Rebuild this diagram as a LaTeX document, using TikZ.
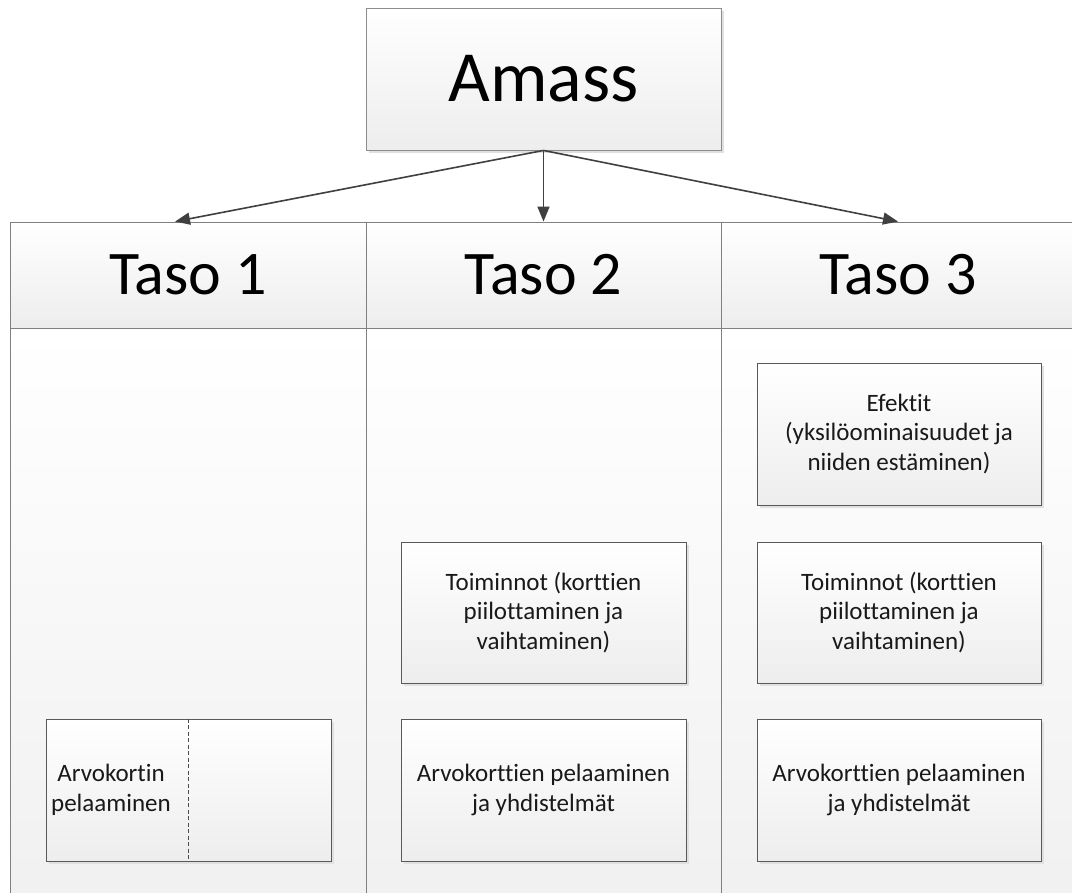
\documentclass[tikz,border=0pt]{standalone}
\usepackage{fontspec}
\setmainfont{Carlito}[Ligatures=NoCommon]
\usetikzlibrary{arrows.meta,shadows,calc}
\begin{document}
\begin{tikzpicture}[x=1pt,y=-1pt,
  lanehead/.style={draw=black!50, line width=0.9pt, top color=white, bottom color=black!7,
    inner sep=0pt, font=\fontsize{62}{66}\selectfont},
  lanebody/.style={draw=black!50, line width=0.9pt, top color=white, bottom color=black!6, inner sep=0pt},
  amassbox/.style={draw=black!45, line width=0.9pt, top color=white, bottom color=black!7,
    drop shadow={shadow xshift=3pt, shadow yshift=-3pt, fill=black!12, opacity=1},
    inner sep=0pt, font=\fontsize{72}{76}\selectfont},
  cardbox/.style={draw=black!65, line width=0.9pt, top color=white, bottom color=black!7,
    drop shadow={shadow xshift=3pt, shadow yshift=-3pt, fill=black!12, opacity=1},
    inner sep=0pt, align=center, font=\fontsize{25}{29.5}\selectfont, text=black!90},
  cardtext/.style={inner sep=0pt, align=center, font=\fontsize{25}{29.5}\selectfont, text=black!90},
  conn/.style={draw=black!75, line width=1.6pt, -{Triangle[length=15pt,width=12pt]}},
  divider/.style={draw=black!70, line width=0.7pt, dash pattern=on 4pt off 2.5pt}
]
\clip (0,0) rectangle (1072,893);
\fill[white] (0,0) rectangle (1072,893);

% lanes
\node[lanebody, minimum width=356pt, minimum height=600pt, anchor=north] (b1) at (188,328) {};
\node[lanebody, minimum width=355pt, minimum height=600pt, anchor=north] (b2) at (543.5,328) {};
\node[lanebody, minimum width=354pt, minimum height=600pt, anchor=north] (b3) at (898,328) {};
\node[lanehead, minimum width=356pt, minimum height=106pt] (t1) at (188,275) {Taso 1};
\node[lanehead, minimum width=355pt, minimum height=106pt] (t2) at (543.5,275) {Taso 2};
\node[lanehead, minimum width=354pt, minimum height=106pt] (t3) at (898,275) {Taso 3};

% top box
\node[amassbox, minimum width=355pt, minimum height=142pt] (amass) at (543.5,79) {Amass};

% connectors
\draw[conn] (amass.south) -- ([xshift=-13pt]t1.north);
\draw[conn] (amass.south) -- (t2.north);
\draw[conn] (amass.south) -- (t3.north);

% Taso 1
\node[cardbox, minimum width=285pt, minimum height=142pt] (c1) at (188.5,790) {};
\draw[divider] (c1.north) -- (c1.south);
\node[cardtext] (c1t) at (111,790) {Arvokortin\\pelaaminen};

% Taso 2
\node[cardbox, minimum width=285pt, minimum height=141pt] (c2a) at (543.5,612.5) {Toiminnot (korttien\\piilottaminen ja\\vaihtaminen)};
\node[cardbox, minimum width=285pt, minimum height=142pt] (c2b) at (543.5,790) {Arvokorttien pelaaminen\\ja yhdistelmät};

% Taso 3
\node[cardbox, minimum width=284pt, minimum height=142pt] (c3a) at (899,434) {Efektit\\(yksilöominaisuudet ja\\niiden estäminen)};
\node[cardbox, minimum width=284pt, minimum height=141pt] (c3b) at (899,612.5) {Toiminnot (korttien\\piilottaminen ja\\vaihtaminen)};
\node[cardbox, minimum width=284pt, minimum height=142pt] (c3c) at (899,790) {Arvokorttien pelaaminen\\ja yhdistelmät};
\end{tikzpicture}
\end{document}
